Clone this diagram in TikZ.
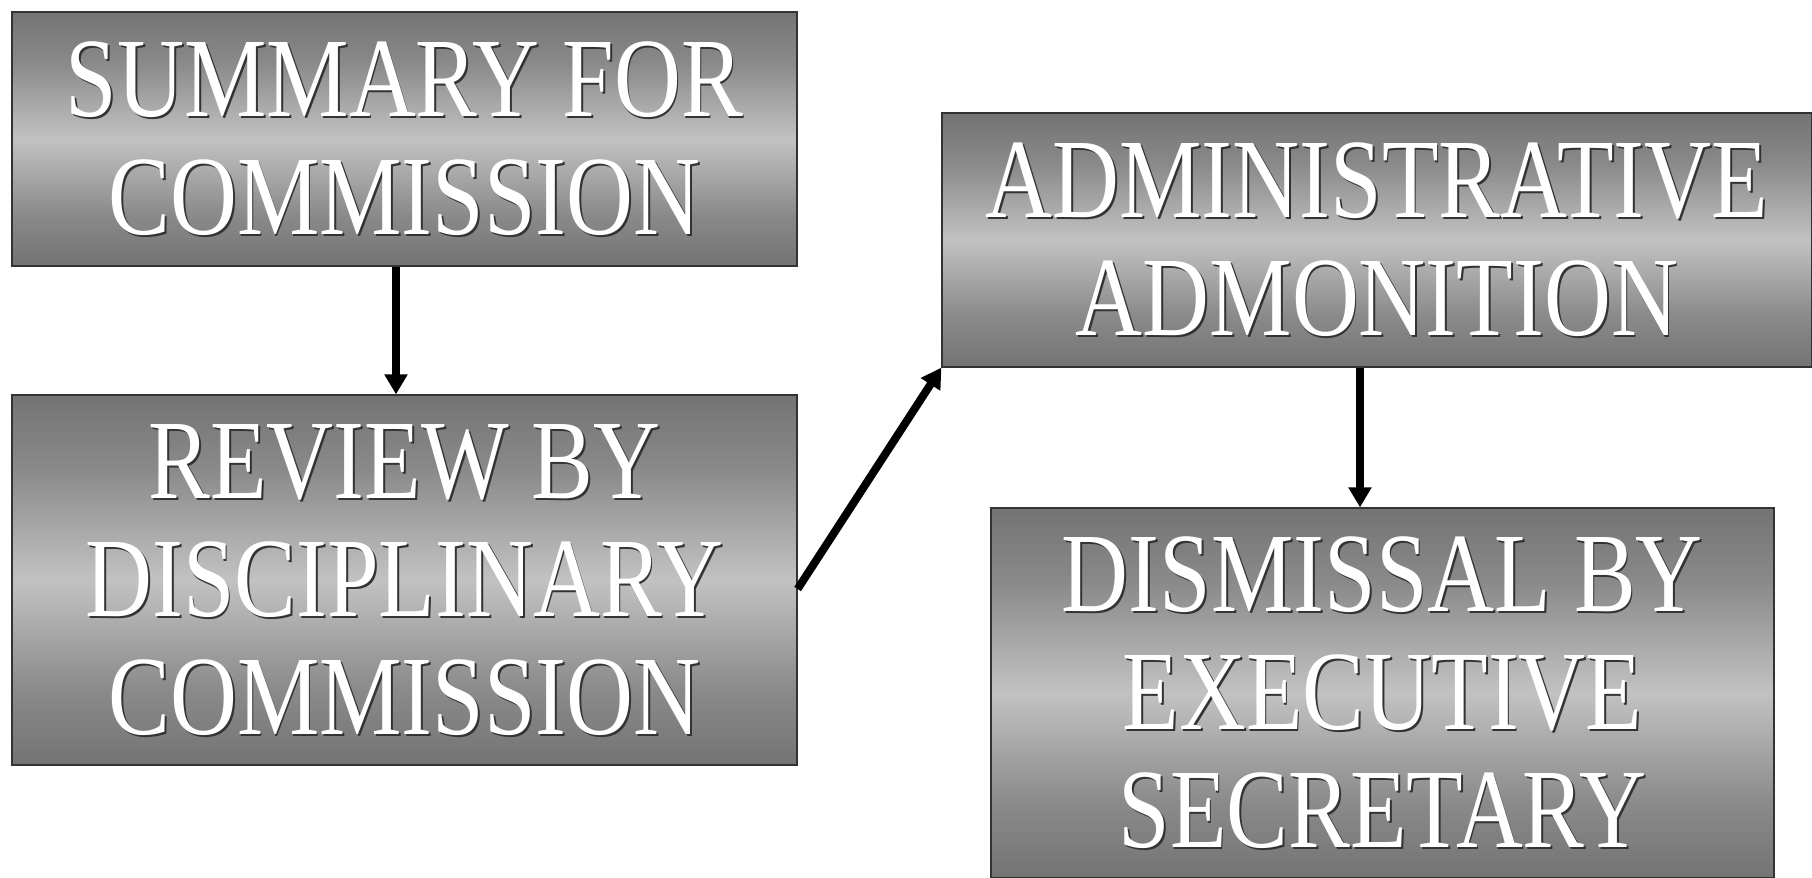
\documentclass[tikz,border=0pt]{standalone}
\usepackage{fontspec}
\usetikzlibrary{arrows.meta,calc}
\newfontfamily\boxfam[FakeStretch=0.82]{Liberation Serif}
\newcommand\boxfont{\boxfam\fontsize{56.5pt}{59pt}\selectfont}
\pgfdeclareverticalshading{boxshade}{100bp}{color(0bp)=(black!74); color(12bp)=(black!66); color(35bp)=(black!46); color(50bp)=(black!24); color(65bp)=(black!46); color(88bp)=(black!66); color(100bp)=(black!74)}
\tikzset{
  stepbox/.style={rectangle, shading=boxshade, draw=black!80, line width=0.6pt,
    text=white, font=\boxfont, align=center, inner sep=0pt,
    path picture={\node[font=\boxfont, align=center, text=black!80, inner sep=0pt]
      at ([shift={(0.9pt,-0.9pt)}]path picture bounding box.center) {#1};}},
  flow/.style={line width=4pt, -{Triangle[length=10pt,width=11pt]}},
}
\begin{document}
\begin{tikzpicture}[x=0.5pt,y=-0.5pt]
\useasboundingbox (0,0) rectangle (1812,878);
\node[stepbox={SUMMARY FOR\\COMMISSION}, minimum width=392.5pt, minimum height=127pt]
  (s1) at (404.5,139) {SUMMARY FOR\\COMMISSION};
\node[stepbox={REVIEW BY\\DISCIPLINARY\\COMMISSION}, minimum width=392.5pt, minimum height=185pt]
  (s2) at (404.5,580) {REVIEW BY\\DISCIPLINARY\\COMMISSION};
\node[stepbox={ADMINISTRATIVE\\ADMONITION}, minimum width=435pt, minimum height=127pt]
  (s3) at (1377,240) {ADMINISTRATIVE\\ADMONITION};
\node[stepbox={DISMISSAL BY\\EXECUTIVE\\SECRETARY}, minimum width=391.5pt, minimum height=185pt]
  (s4) at (1382.5,693) {DISMISSAL BY\\EXECUTIVE\\SECRETARY};
\coordinate (c1) at (396,0);
\coordinate (c3) at (1360,0);
\draw[flow] (s1.south -| c1) -- (s2.north -| c1);
\draw[flow] ([yshift=-4.5pt]s2.east) -- (s3.south west);
\draw[flow] (s3.south -| c3) -- (s4.north -| c3);
\end{tikzpicture}
\end{document}
